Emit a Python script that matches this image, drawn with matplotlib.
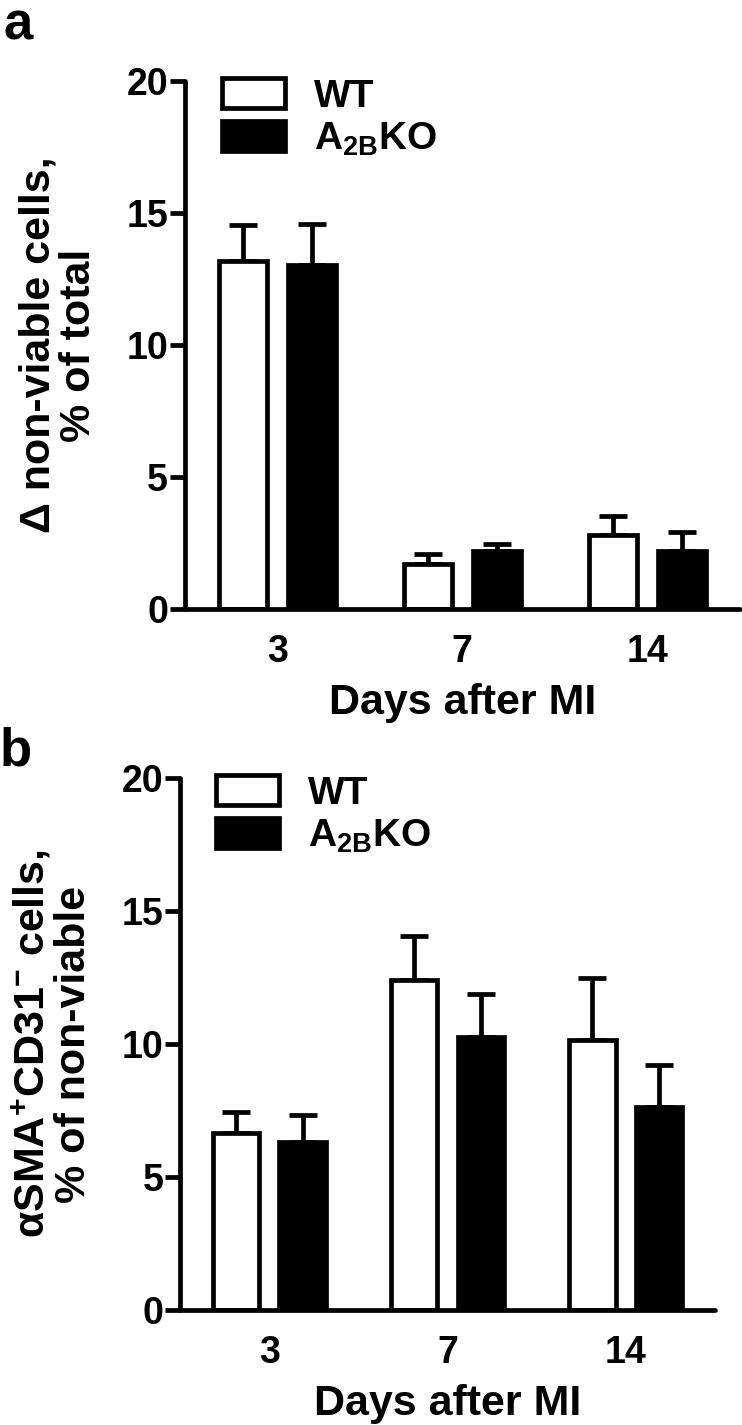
import numpy as np
import matplotlib.pyplot as plt

plt.rcParams['font.family'] = ['Liberation Sans', 'DejaVu Sans']
plt.rcParams['font.weight'] = 'bold'
plt.rcParams['axes.labelweight'] = 'bold'
plt.rcParams['mathtext.fontset'] = 'custom'
plt.rcParams['mathtext.rm'] = 'Liberation Sans:bold'
plt.rcParams['mathtext.bf'] = 'Liberation Sans:bold'
plt.rcParams['mathtext.it'] = 'Liberation Sans:bold'

days = ['3', '7', '14']
groups = ['WT', r'A$_{\mathrm{2B}}$KO']

# panel a: delta non-viable cells, % of total
a_wt = [13.2, 1.7, 2.8]
a_wt_err = [1.35, 0.4, 0.72]
a_ko = [13.05, 2.2, 2.2]
a_ko_err = [1.55, 0.27, 0.72]

# panel b: aSMA+CD31- cells, % of non-viable
b_wt = [6.65, 12.4, 10.15]
b_wt_err = [0.78, 1.68, 2.32]
b_ko = [6.3, 10.25, 7.65]
b_ko_err = [1.05, 1.62, 1.57]

ylab_a = '\u0394 non-viable cells,\n% of total'
ylab_b = r'$\alpha$SMA$^{+}$CD31$^{-}$ cells,' + '\n% of non-viable'

LW = 3.4
fig = plt.figure(figsize=(7.42, 14.25), dpi=100)


def panel(rect, wt, wt_err, ko, ko_err, ylab):
    ax = fig.add_axes(rect)
    x = np.arange(len(days))
    off, w = 0.187, 0.26
    for xs, vals, errs, fc, lab in [(x - off, wt, wt_err, 'white', groups[0]),
                                    (x + off, ko, ko_err, 'black', groups[1])]:
        ax.errorbar(xs, vals, yerr=[np.zeros(len(vals)), errs], fmt='none',
                    ecolor='black', elinewidth=LW, capsize=10, capthick=LW,
                    zorder=1)
        ax.bar(xs, vals, width=w, color=fc, edgecolor='black', linewidth=LW,
               label=lab, zorder=2)
    ax.set_xlim(-0.5, 2.5)
    ax.set_ylim(0, 20)
    ax.set_yticks([0, 5, 10, 15, 20])
    ax.set_xticks(x)
    ax.set_xticklabels(days)
    for s in ['top', 'right']:
        ax.spines[s].set_visible(False)
    for s in ['left', 'bottom']:
        ax.spines[s].set_linewidth(LW)
        ax.spines[s].set_capstyle('round')
    ax.tick_params(axis='y', length=11, width=LW, labelsize=27, pad=1)
    ax.tick_params(axis='x', length=0, labelsize=27, pad=18)
    ax.set_xlabel('Days after MI', fontsize=31, labelpad=9)
    ax.set_ylabel(ylab, fontsize=31, linespacing=1.0, labelpad=20)
    leg = ax.legend(loc='upper left', bbox_to_anchor=(0.068, 1.005), frameon=False,
                    fontsize=28, handlelength=1.6, handleheight=0.8,
                    handletextpad=0.75, labelspacing=0.15,
                    borderpad=0, borderaxespad=0)
    for p in leg.get_patches():
        p.set_linewidth(LW)
    return ax


panel([0.249, 0.5726, 0.748, 0.3705], a_wt, a_wt_err, a_ko, a_ko_err, ylab_a)
panel([0.2426, 0.0807, 0.721, 0.3733], b_wt, b_wt_err, b_ko, b_ko_err, ylab_b)

fig.text(0.005, 1.0, 'a', fontsize=38, va='top', ha='left')
fig.text(0.0, 0.49, 'b', fontsize=38, va='top', ha='left')

fig.savefig('out.png', dpi=100)
